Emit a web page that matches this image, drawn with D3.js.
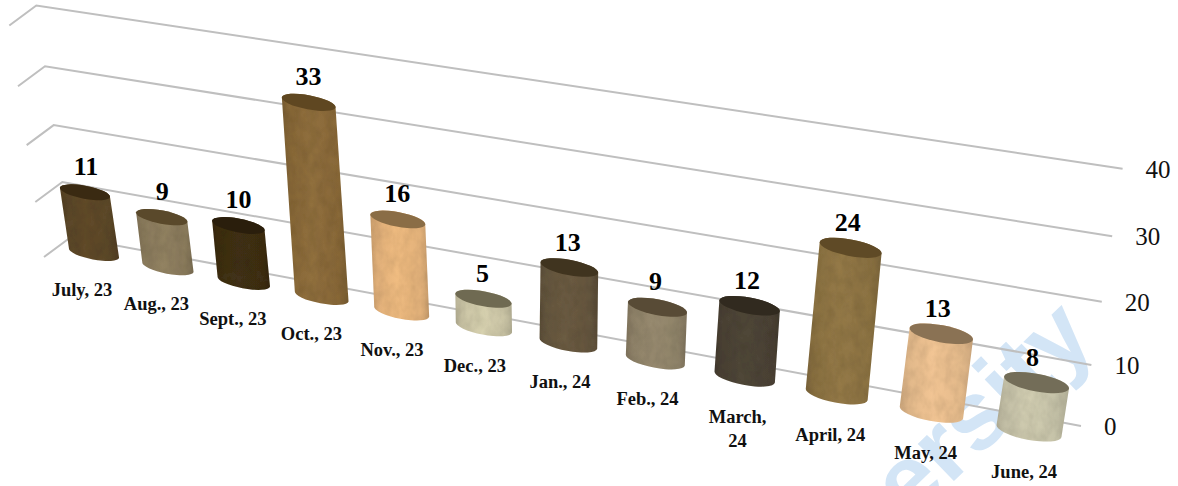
<!DOCTYPE html>
<html><head><meta charset="utf-8">
<script src="https://cdn.jsdelivr.net/npm/d3@7/dist/d3.min.js"></script>
<style>html,body{margin:0;padding:0;background:#fff}svg{display:block}</style>
</head><body><svg id="c" width="1178" height="486"></svg>
<script>
const categories=[["July, 23"],["Aug., 23"],["Sept., 23"],["Oct., 23"],["Nov., 23"],["Dec., 23"],["Jan., 24"],["Feb., 24"],["March,","24"],["April, 24"],["May, 24"],["June, 24"]];
const values=[11,9,10,33,16,5,13,9,12,24,13,8];
const ticks=[0,10,20,30,40];
const bodyColors=["#5d482a","#8c7d5e","#3f3019","#8a6a3a","#e6b47c","#cfc9a9","#675840","#92856b","#4d4437","#8e7444","#e8bd8e","#c8c4aa"];
const topColors=["#3a2a12","#5a492b","#2a1e0c","#5f4721","#8a6d46","#6f6a52","#40341f","#584b36","#312a1f","#5f4a26","#8a7254","#736d58"];
const svg=d3.select("#c");
const serif="'Liberation Serif','Times New Roman',serif";
const defs=svg.append("defs");
const f=defs.append("filter").attr("id","tex").attr("x","0").attr("y","0").attr("width","1").attr("height","1");
f.append("feTurbulence").attr("type","fractalNoise").attr("baseFrequency","0.11 0.07").attr("numOctaves",3).attr("seed",7).attr("result","n");
f.append("feColorMatrix").attr("in","n").attr("type","matrix").attr("values","0 0 0 0 0  0 0 0 0 0  0 0 0 0 0  0.3 0 0 0 -0.09").attr("result","d");
f.append("feComposite").attr("in","d").attr("in2","SourceAlpha").attr("operator","in").attr("result","t");
const m=f.append("feMerge");m.append("feMergeNode").attr("in","SourceGraphic");m.append("feMergeNode").attr("in","t");

// perspective along the category axis
const n=categories.length-1, ratio=1.165;
const persp=i=>{const t=i/n;return t/(t+ratio*(1-t));};
const xBase=d3.scaleLinear([0,1],[94,1029]), yBase=d3.scaleLinear([0,1],[253,431]);
const barW=d3.scaleLinear([0,1],[51,66]), barRy=d3.scaleLinear([0,1],[6.5,8.8]);
const xCat=d3.scaleLinear([0,1],[82,1024]), yCat=d3.scaleLinear([0,1],[291,473]);
const labelShift=d3.scaleLinear([0,1],[1,-4]);
// perspective along the value axis
const rise=d3.scaleLinear([71,1081],[5.4,6.0]);
const lean=d3.scaleLinear([71,1081],[-0.867,1.04]);
const gv=v=>v*(1+0.0018*v);
const lift=(x,y,v)=>[x+lean(x)*v,y-rise(x)*gv(v)];
const wallX=d3.scaleLinear([0,1],[71,1081]), wallY=d3.scaleLinear([0,1],[237,426]);

// watermark
svg.append("text").attr("transform","translate(1098,342) rotate(-44)").attr("text-anchor","end")
  .attr("font-family","'Liberation Sans',Arial,sans-serif").attr("font-weight",700).attr("font-size",98)
  .attr("fill","#d3e5f6").text("University");

// grid
const grid=svg.append("g").attr("stroke","#bfbfbf").attr("stroke-width",2).attr("fill","none");
ticks.forEach(v=>{
  const a=lift(wallX(0),wallY(0),v), b=lift(wallX(1),wallY(1),v);
  grid.append("path").attr("d",d3.line()([[a[0]-27,a[1]+20],a,b]));
  svg.append("text").attr("x",b[0]+23).attr("y",b[1]+9).attr("font-family",serif).attr("font-size",25).attr("fill","#111").text(v);
});

// bars
values.forEach((v,i)=>{
  const p=persp(i), bx=xBase(p), by=yBase(p), w=barW(p), ry=barRy(p), rx=w/2;
  const ang=Math.atan2(9.5,50), c=Math.cos(ang), s=Math.sin(ang);
  const [tx,ty]=lift(bx,by,v);
  const g=defs.append("linearGradient").attr("id","g"+i).attr("x1",0).attr("x2",1).attr("y1",0).attr("y2",0);
  const base=d3.color(bodyColors[i]);
  [[0,base.darker(0.35)],[0.12,base.darker(0.08)],[0.45,base.brighter(0.12)],[0.85,base.darker(0.05)],[1,base.darker(0.4)]]
    .forEach(([o,col])=>g.append("stop").attr("offset",o).attr("stop-color",col));
  const deg=ang*180/Math.PI;
  const body=`M${tx-rx*c},${ty-rx*s} L${bx-rx*c},${by-rx*s} A${rx},${ry} ${deg} 0 0 ${bx+rx*c},${by+rx*s} L${tx+rx*c},${ty+rx*s} A${rx},${ry} ${deg} 0 0 ${tx-rx*c},${ty-rx*s} Z`;
  svg.append("path").attr("d",body).attr("fill",`url(#g${i})`).attr("filter","url(#tex)");
  svg.append("ellipse").attr("rx",rx).attr("ry",ry).attr("transform",`translate(${tx},${ty}) rotate(${deg})`).attr("fill",topColors[i]);
  svg.append("text").attr("x",tx+labelShift(p)).attr("y",ty-17).attr("text-anchor","middle").attr("font-family",serif)
    .attr("font-weight",700).attr("font-size",26).attr("fill","#000").text(v);
  const lab=svg.append("text").attr("text-anchor","middle").attr("font-family",serif).attr("font-weight",700)
    .attr("font-size",18.5).attr("fill","#111");
  categories[i].forEach((l,k)=>lab.append("tspan").attr("x",xCat(p)).attr("y",yCat(p)+5+k*24).text(l));
});
</script></body></html>
